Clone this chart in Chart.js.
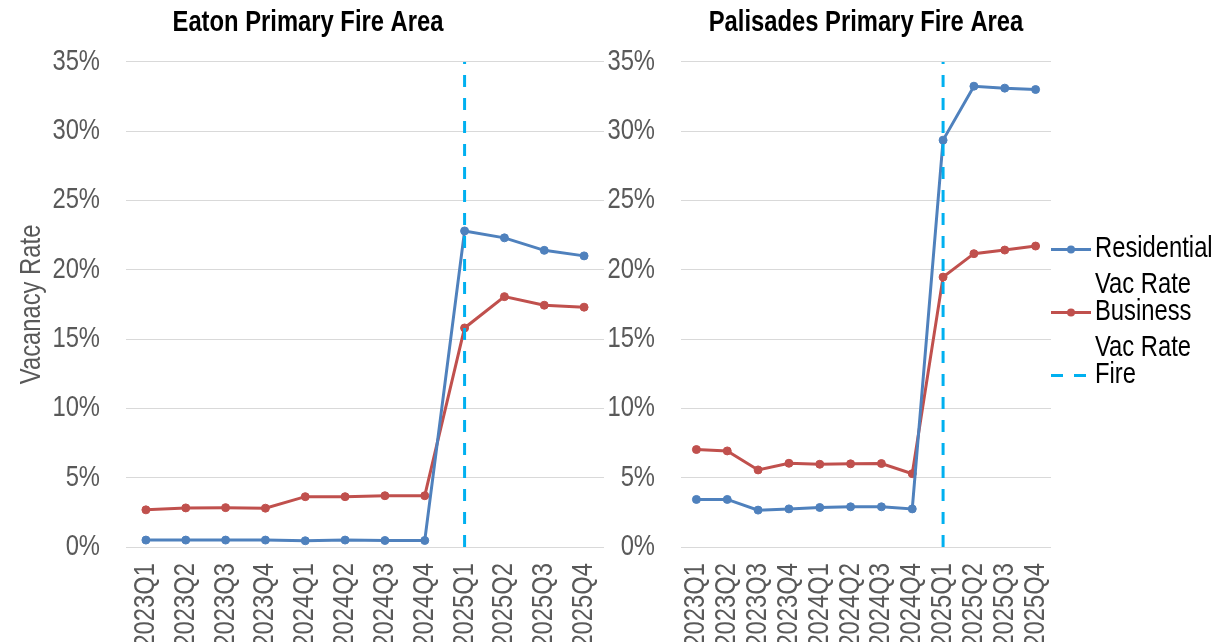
<!DOCTYPE html>
<html>
<head>
<meta charset="utf-8">
<title>Vacancy Rate - Fire Areas</title>
<script src="https://cdn.jsdelivr.net/npm/chart.js@4.4.1/dist/chart.umd.min.js"></script>
<style>
  html, body { margin: 0; padding: 0; background: #fff; overflow: hidden; width: 1215px; height: 642px; }
  canvas { position: absolute; top: 0; }
  #eatonChart { left: 0; }
  #palisadesChart { left: 600px; }
</style>
</head>
<body>
<canvas id="eatonChart" width="616" height="642"></canvas>
<canvas id="palisadesChart" width="615" height="642"></canvas>
<script>
// Data (vacancy rate, %)
const quarters = ['2023Q1', '2023Q2', '2023Q3', '2023Q4', '2024Q1', '2024Q2', '2024Q3', '2024Q4', '2025Q1', '2025Q2', '2025Q3', '2025Q4'];

const eatonResidential = [0.5, 0.5, 0.5, 0.5, 0.45, 0.5, 0.47, 0.47, 22.8, 22.3, 21.4, 21.0];
const eatonBusiness    = [2.68, 2.82, 2.84, 2.8, 3.63, 3.63, 3.7, 3.7, 15.8, 18.06, 17.44, 17.3];

const palisadesResidential = [3.43, 3.43, 2.66, 2.75, 2.85, 2.9, 2.9, 2.75, 29.35, 33.24, 33.1, 33.0];
const palisadesBusiness    = [7.03, 6.93, 5.56, 6.04, 5.97, 6.0, 6.02, 5.29, 19.47, 21.16, 21.42, 21.71];

const fireQuarter = '2025Q1';
const fireSpan = [0, 35];
const yTicks = [0, 5, 10, 15, 20, 25, 30, 35];

const seriesLabels = ['Residential Vac Rate', 'Business Vac Rate', 'Fire'];
const seriesColors = ['#4F81BD', '#C0504D', '#00B0F0'];

const FONT = '"Liberation Sans", Arial, sans-serif';
Chart.defaults.font.family = FONT;
Chart.defaults.font.size = 29;
Chart.defaults.color = '#595959';

// No Arial Narrow here: squeeze the text along its own direction instead
const NARROW = 0.82;
function narrowContext(canvas) {
    const ctx = canvas.getContext('2d');
    const fill = ctx.fillText.bind(ctx);
    const measure = ctx.measureText.bind(ctx);
    ctx.fillText = function (text, x, y, maxWidth) {
        ctx.save();
        ctx.translate(x, y);
        ctx.scale(NARROW, 1);
        fill(text, 0, 0);
        ctx.restore();
    };
    ctx.measureText = function (text) {
        const m = measure(text);
        return { width: m.width * NARROW, actualBoundingBoxAscent: m.actualBoundingBoxAscent, actualBoundingBoxDescent: m.actualBoundingBoxDescent };
    };
    return ctx;
}

function buildDatasets(residential, business) {
    return [
        {
            label: seriesLabels[2],
            data: [{ x: fireQuarter, y: fireSpan[0] }, { x: fireQuarter, y: fireSpan[1] }],
            borderColor: seriesColors[2],
            borderDash: [12, 11],
            borderWidth: 3,
            pointRadius: 0,
            order: 0
        },
        {
            label: seriesLabels[0],
            data: residential,
            borderColor: seriesColors[0],
            backgroundColor: seriesColors[0],
            borderWidth: 3,
            pointRadius: 4,
            pointBorderWidth: 1,
            order: 1
        },
        {
            label: seriesLabels[1],
            data: business,
            borderColor: seriesColors[1],
            backgroundColor: seriesColors[1],
            borderWidth: 3,
            pointRadius: 4,
            pointBorderWidth: 1,
            order: 2
        }
    ];
}

function buildScales(showTitle, yWidth) {
    return {
        x: {
            type: 'category',
            offset: true,
            grid: { display: false, drawTicks: false },
            border: { display: false },
            afterFit: axis => { axis.height = 95; axis.paddingLeft = 0; axis.paddingRight = 0; },
            ticks: { minRotation: 90, maxRotation: 90, padding: 16, autoSkip: false, color: '#595959' }
        },
        y: {
            min: yTicks[0],
            max: yTicks[yTicks.length - 1],
            afterBuildTicks: axis => { axis.ticks = yTicks.map(v => ({ value: v })); },
            afterFit: axis => { axis.width = yWidth; axis.paddingTop = 0; axis.paddingBottom = 0; },
            grid: { color: '#d9d9d9', lineWidth: 1, drawTicks: false },
            border: { display: false },
            ticks: { padding: 26, callback: v => v + '%' },
            title: {
                display: showTitle,
                text: 'Vacanacy Rate',
                color: '#595959',
                padding: { top: 3, bottom: 0 }
            }
        }
    };
}

function titleOptions(text, fullSize) {
    return {
        display: true,
        fullSize: fullSize,
        text: text,
        color: '#000',
        font: { size: 29, weight: 'bold' },
        padding: { top: 6, bottom: 21 }
    };
}

// Legend with wrapped labels, drawn to the right of the Palisades plot
const sideLegend = {
    id: 'sideLegend',
    afterDraw(chart) {
        const ctx = chart.ctx;
        const area = chart.chartArea;
        const order = [1, 2, 0];
        const x0 = area.right;
        const textX = x0 + 44;
        const maxW = chart.width - textX;
        let y = (area.top + area.bottom) / 2 - 55;
        ctx.save();
        ctx.font = '29px ' + FONT;
        ctx.textBaseline = 'middle';
        ctx.textAlign = 'left';
        order.forEach(i => {
            const ds = chart.data.datasets[i];
            const words = ds.label.split(' ');
            const lines = [];
            let cur = '';
            words.forEach(w => {
                const t = cur ? cur + ' ' + w : w;
                if (cur && ctx.measureText(t).width > maxW) { lines.push(cur); cur = w; }
                else cur = t;
            });
            lines.push(cur);

            ctx.strokeStyle = ds.borderColor;
            ctx.lineWidth = 3;
            ctx.setLineDash(ds.borderDash || []);
            ctx.beginPath();
            ctx.moveTo(x0, y);
            ctx.lineTo(x0 + 40, y);
            ctx.stroke();
            ctx.setLineDash([]);
            if (ds.pointRadius) {
                ctx.fillStyle = ds.backgroundColor;
                ctx.beginPath();
                ctx.arc(x0 + 20, y, 4, 0, Math.PI * 2);
                ctx.fill();
            }
            ctx.fillStyle = '#000';
            lines.forEach((ln, k) => ctx.fillText(ln, textX, y + k * 36));
            y += 63;
        });
        ctx.restore();
    }
};

new Chart(narrowContext(document.getElementById('eatonChart')), {
    type: 'line',
    data: { labels: quarters, datasets: buildDatasets(eatonResidential, eatonBusiness) },
    options: {
        responsive: false,
        animation: false,
        layout: { padding: { left: 12, right: 12, top: 0, bottom: 0 } },
        elements: { line: { tension: 0 } },
        plugins: {
            legend: { display: false },
            tooltip: { enabled: false },
            title: titleOptions('Eaton Primary Fire Area', true)
        },
        scales: buildScales(true, 114)
    }
});

new Chart(narrowContext(document.getElementById('palisadesChart')), {
    type: 'line',
    data: { labels: quarters, datasets: buildDatasets(palisadesResidential, palisadesBusiness) },
    options: {
        responsive: false,
        animation: false,
        layout: { padding: { left: 0, right: 164, top: 0, bottom: 0 } },
        elements: { line: { tension: 0 } },
        plugins: {
            legend: { display: false },
            tooltip: { enabled: false },
            title: titleOptions('Palisades Primary Fire Area', false)
        },
        scales: buildScales(false, 81)
    },
    plugins: [sideLegend]
});
</script>
</body>
</html>
